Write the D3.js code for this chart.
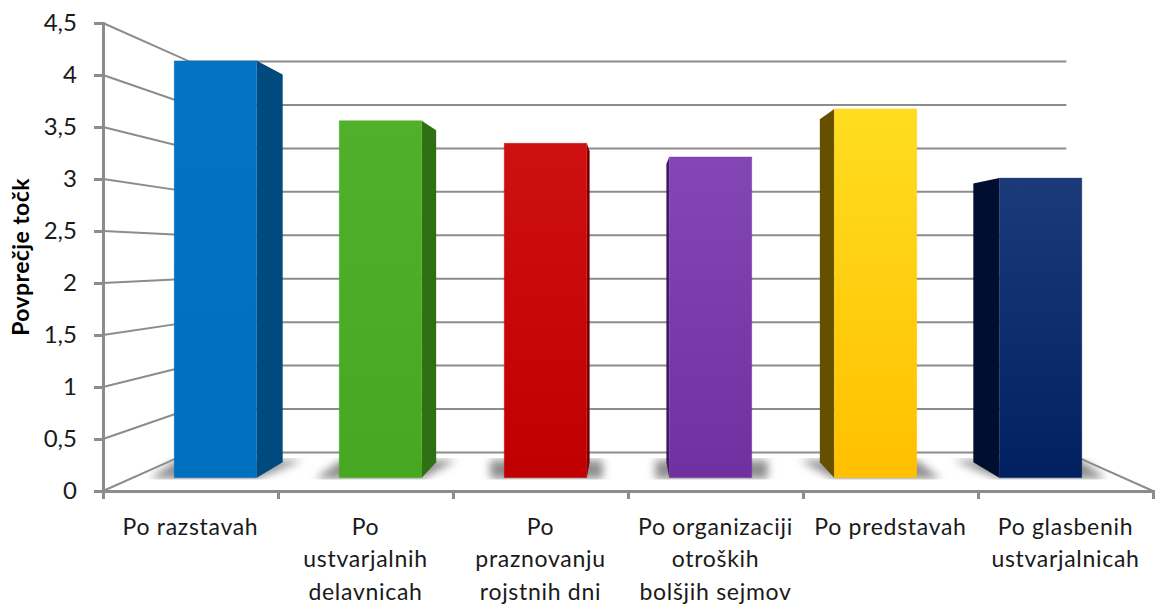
<!DOCTYPE html>
<html><head><meta charset="utf-8">
<script src="https://cdn.jsdelivr.net/npm/d3@7/dist/d3.min.js"></script>
<style>html,body{margin:0;padding:0;background:#fff}svg{display:block}</style>
</head><body><svg id="c" width="1155" height="605"></svg>
<script>
const categories = [["Po razstavah"],["Po","ustvarjalnih","delavnicah"],["Po","praznovanju","rojstnih dni"],["Po organizaciji","otroških","bolšjih sejmov"],["Po predstavah"],["Po glasbenih","ustvarjalnicah"]];
const values = [4.25, 3.64, 3.41, 3.27, 3.76, 3.055];
const yTicks = [0,0.5,1,1.5,2,2.5,3,3.5,4,4.5];
const yTitle = "Povprečje točk";
const topColors = ["#0572c2","#50b02a","#cf1010","#8445b5","#ffdd20","#1b3a7a"];
const bottomColors = ["#006fbe","#46a820","#c00000","#7030a0","#ffc000","#002060"];
const sideColors = ["#004a80","#2f7015","#7d0000","#3f1a60","#665000","#000f30"];

const svg = d3.select("#c");
const gray = "#8c8c8c";
const y = d3.scaleLinear().domain([0,4.5]).range([491,23]);
const xAxisScale = d3.scaleLinear().domain([0,6]).range([103,1153]);
const x = d3.scaleBand().domain(d3.range(6)).range([103,1153]).paddingInner(0.5).paddingOuter(0.25);
const vp = {x:628, y:257};
const tBack = 0.165, tFront = 0.057, tRear = 0.123;
const proj = (px,py,t)=>[px+(vp.x-px)*t, py+(vp.y-py)*t];

const defs = svg.append("defs");
defs.append("filter").attr("id","blur").attr("x","-30%").attr("y","-80%").attr("width","160%").attr("height","260%")
  .append("feGaussianBlur").attr("stdDeviation",4);
defs.append("clipPath").attr("id","floorClip").append("rect").attr("x",100).attr("y",458).attr("width",1050).attr("height",21.5);
values.forEach((v,i)=>{
  const g = defs.append("linearGradient").attr("id","g"+i).attr("x1",0).attr("y1",0).attr("x2",0).attr("y2",1);
  g.append("stop").attr("offset",0).attr("stop-color",topColors[i]);
  g.append("stop").attr("offset",1).attr("stop-color",bottomColors[i]);
});

// walls
const walls = svg.append("g").attr("fill","none").attr("stroke",gray).attr("stroke-width",2);
yTicks.forEach(t=>{
  const a=[xAxisScale(0),y(t)], b=proj(a[0],a[1],tBack), c=proj(xAxisScale(6),y(t),tBack);
  walls.append("path").attr("d",d3.line()([a,b,c]));
});
walls.append("path").attr("d",d3.line()([[xAxisScale(6),y(0)],proj(xAxisScale(6),y(0),tBack)]));

// shadows and bars
const shadows = svg.append("g").attr("clip-path","url(#floorClip)");
const bars = svg.append("g");
values.forEach((v,i)=>{
  const a=x(i), b=x(i)+x.bandwidth();
  const fl=proj(a,y(0),tFront), fr=proj(b,y(0),tFront), bl=proj(a,y(0),tRear), br=proj(b,y(0),tRear);
  const fy=fl[1]+1, by=bl[1]-2;
  const cpx=(fl[0]+fr[0])/2;
  let poly;
  if (cpx<450) poly=[[fl[0]-24,fy],[fl[0]+2,by],[br[0]+20,by],[fr[0],fy]];
  else if (cpx<800) poly=[[fl[0]-14,fy],[fl[0]-14,by],[fr[0]+16,by],[fr[0]+16,fy]];
  else poly=[[fl[0],fy],[bl[0]-20,by],[fr[0],by],[fr[0]+24,fy]];
  shadows.append("path").attr("filter","url(#blur)").attr("fill","#8e8e8e").attr("d",d3.line()(poly)+"Z");

  const right = proj((a+b)/2,0,tFront)[0]<vp.x;
  const edge = right? b : a;
  const side=[proj(edge,y(v),tFront),proj(edge,y(v),tRear),proj(edge,y(0),tRear),proj(edge,y(0),tFront)];
  bars.append("path").attr("d",d3.line()(side)+"Z").attr("fill",sideColors[i]);
  const p0=proj(a,y(v),tFront), p1=proj(b,y(0),tFront);
  bars.append("rect").attr("x",p0[0]).attr("y",p0[1]).attr("width",p1[0]-p0[0]).attr("height",p1[1]-p0[1])
    .attr("fill",`url(#g${i})`).attr("stroke",bottomColors[i]).attr("stroke-opacity",0.3).attr("stroke-width",1);
});

// axes
const yAxis = d3.axisLeft(y).tickValues(yTicks).tickSize(9).tickPadding(17)
  .tickFormat(d=>String(d).replace(".",","));
const yG = svg.append("g").attr("transform","translate(103,0)").call(yAxis);
const xG = svg.append("g").attr("transform","translate(0,491)").call(d3.axisBottom(xAxisScale).tickValues(d3.range(7)).tickSize(8).tickFormat(""));
[yG,xG].forEach(g=>{
  g.selectAll("path").attr("stroke",gray).attr("stroke-width",3).attr("fill","none");
  g.selectAll("line").attr("stroke",gray).attr("stroke-width",3);
});
yG.selectAll("text").attr("font-family","Lato").attr("font-size",24).attr("fill","#1a1a1a");

// category labels
const lineYs=[535,567,600];
categories.forEach((lines,i)=>{
  const cx=xAxisScale(i+0.5);
  lines.forEach((l,j)=>svg.append("text").text(l).attr("x",cx).attr("y",lineYs[j]).attr("text-anchor","middle")
    .attr("font-family","Lato").attr("font-size",23).attr("letter-spacing",0.7).attr("fill","#1a1a1a"));
});
svg.append("text").text(yTitle).attr("transform","translate(29,257) rotate(-90)").attr("text-anchor","middle")
  .attr("font-family","Lato").attr("font-weight",700).attr("font-size",23).attr("letter-spacing",0.4).attr("fill","#000");
</script></body></html>
